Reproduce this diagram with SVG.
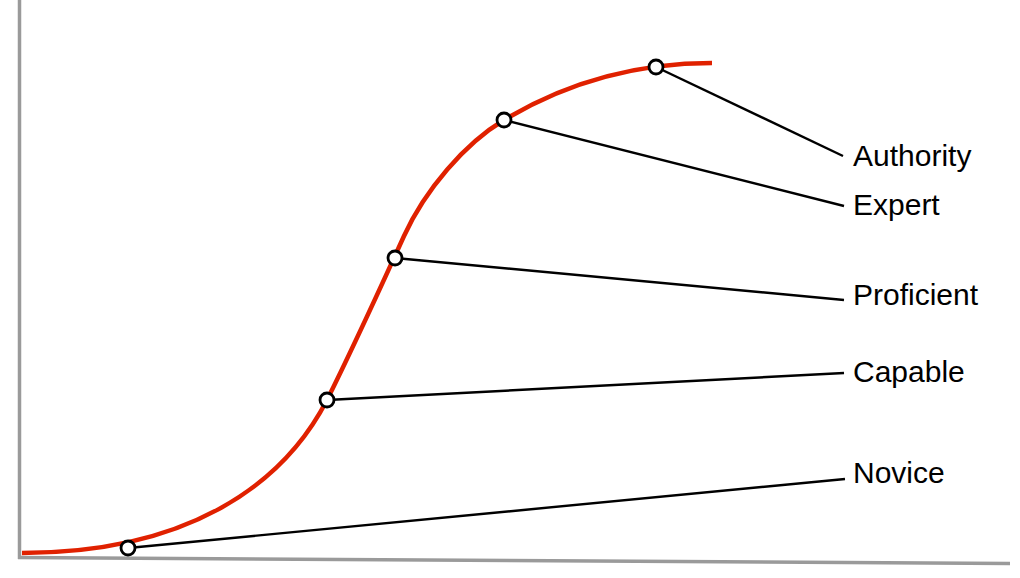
<svg xmlns="http://www.w3.org/2000/svg" width="1020" height="578" viewBox="0 0 1020 578">
  <style>
    .axis { stroke: #9a9a9a; stroke-width: 3.5; fill: none; }
    .curve { stroke: #e02100; stroke-width: 4.5; fill: none; stroke-linecap: butt; }
    .conn { stroke: #000; stroke-width: 2.4; fill: none; }
    .pt { fill: #fff; stroke: #000; stroke-width: 2.8; }
    .lbl { font-family: "Liberation Sans", Arial, Helvetica, sans-serif; font-size: 30px; fill: #000; }
  </style>
  <rect width="1020" height="578" fill="#fff"/>
  <g id="axes">
    <line class="axis" x1="19.5" y1="0" x2="19.5" y2="559"/>
    <line class="axis" x1="18" y1="557.5" x2="1010" y2="563.5"/>
  </g>
  <g id="curve">
    <path class="curve" d="M22,553 C185,553 282,487 327,400 C352,350 379,291 404,236 C425,189.8 465,143.4 504,120 C564,84 632,63 712,63"/>
  </g>
  <g id="connectors">
    <line class="conn" x1="128" y1="548" x2="845" y2="479"/>
    <line class="conn" x1="327" y1="400" x2="844" y2="373"/>
    <line class="conn" x1="395" y1="258" x2="844" y2="300"/>
    <line class="conn" x1="504" y1="120" x2="844" y2="206"/>
    <line class="conn" x1="656" y1="67" x2="843" y2="156"/>
  </g>
  <g id="novice">
    <circle class="pt" cx="128" cy="548" r="7"/>
    <text class="lbl" x="853" y="483">Novice</text>
  </g>
  <g id="capable">
    <circle class="pt" cx="327" cy="400" r="7"/>
    <text class="lbl" x="853" y="382">Capable</text>
  </g>
  <g id="proficient">
    <circle class="pt" cx="395" cy="258" r="7"/>
    <text class="lbl" x="853" y="305">Proficient</text>
  </g>
  <g id="expert">
    <circle class="pt" cx="504" cy="120" r="7"/>
    <text class="lbl" x="853" y="215">Expert</text>
  </g>
  <g id="authority">
    <circle class="pt" cx="656" cy="67" r="7"/>
    <text class="lbl" x="853" y="166">Authority</text>
  </g>
</svg>
